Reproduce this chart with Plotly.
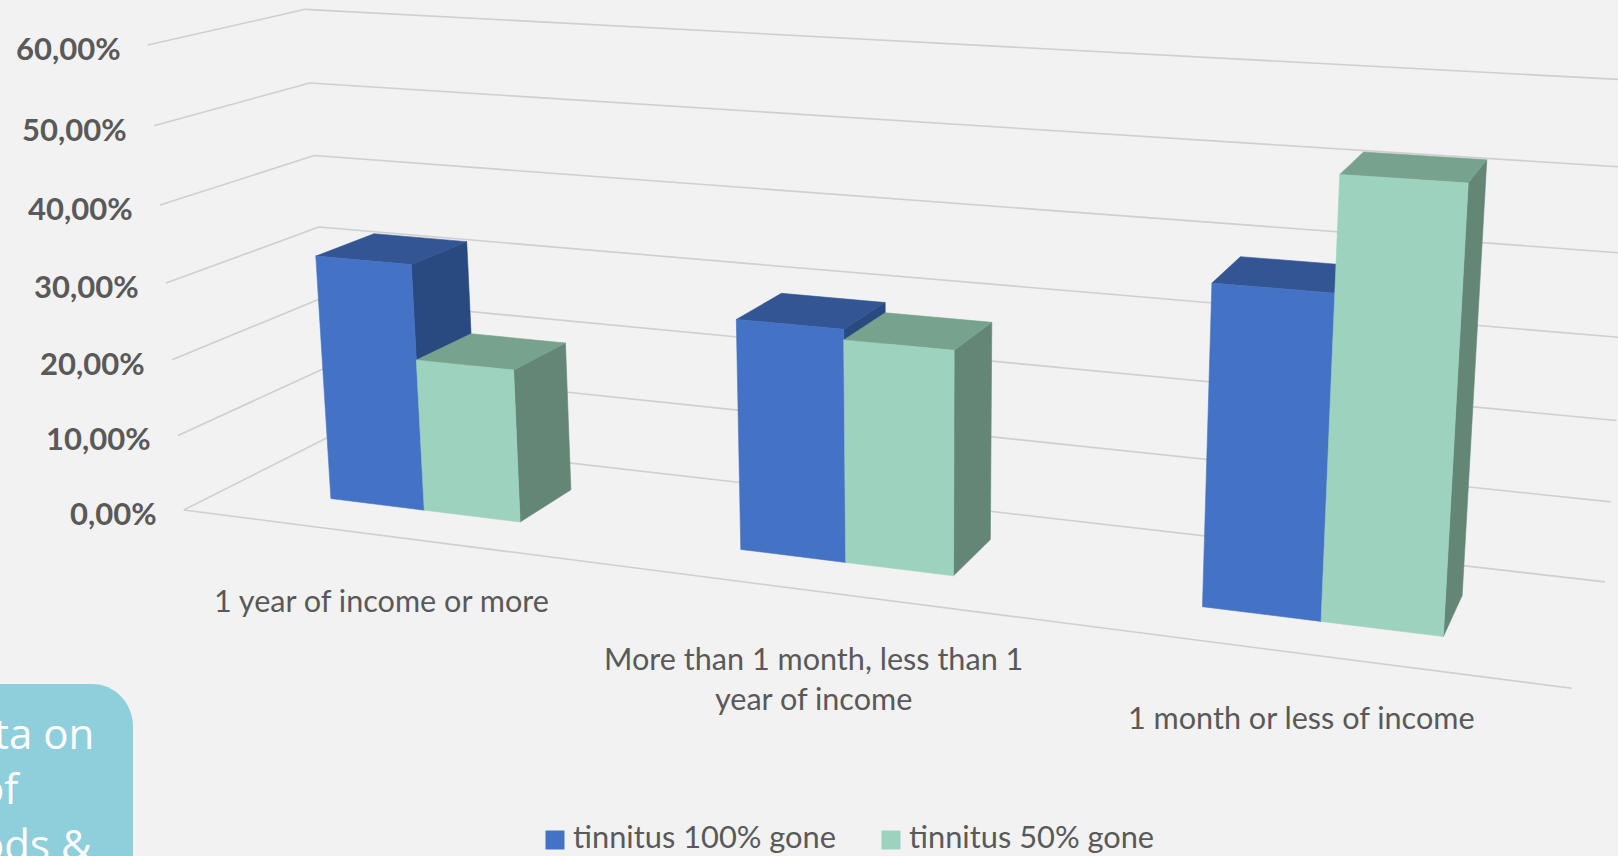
import numpy as np
import plotly.graph_objects as go

WIDTH, HEIGHT = 1618, 856

# Chart data
categories = ["1 year of income or more",
              "More than 1 month, less than 1<br>year of income",
              "1 month or less of income"]
series_names = ["tinnitus 100% gone", "tinnitus 50% gone"]
gone_100 = [32.4, 29.2, 38.5]
gone_50 = [20.0, 27.9, 51.8]
tick_values = [0, 10, 20, 30, 40, 50, 60]
tick_labels = ["0,00%", "10,00%", "20,00%", "30,00%", "40,00%", "50,00%", "60,00%"]

# Face colours per series: front, top, side
FACE_COLOURS = [("#4472C4", "#335593", "#294A80"),
                ("#9DD3BE", "#76A28E", "#648676")]
GRID = "#CFCFCF"
TEXT = "#595959"
BACKGROUND = "#F2F2F2"

# Bar footprint in category units and in floor depth
BAR_WIDTH = 0.238
DEPTH_FRONT, DEPTH_BACK = 0.30, 0.70

# Key row along the bottom edge: square centres and label starts in pixels
KEY_X = [555, 891]
KEY_TEXT_X = [571, 907]
KEY_Y = 840
KEY_TEXT_Y = 836

# Camera calibration: (category, depth, percent) of the plot box -> pixel position
CALIBRATION = [
    ((0, 0, 0), (182.7, 509.6)), ((3, 0, 0), (1572, 688)),
    ((0, 1, 0), (333, 436)), ((3, 1, 0), (1605, 582)),
    ((0, 0, 60), (148.7, 45.7)), ((0, 1, 60), (304.5, 9)),
    ((3, 1, 60), (1641, 80.5)), ((0, 0, 30), (166, 282.9)),
    ((0, 1, 30), (318.3, 226.8)), ((3, 1, 10), (1610, 502)),
]


def solve_camera(pairs):
    rows = []
    for (x, d, z), (u, v) in pairs:
        rows.append([x, d, z, 1, 0, 0, 0, 0, -u * x, -u * d, -u * z, -u])
        rows.append([0, 0, 0, 0, x, d, z, 1, -v * x, -v * d, -v * z, -v])
    return np.linalg.svd(np.array(rows, float))[2][-1].reshape(3, 4)


CAMERA = solve_camera(CALIBRATION)


def project(x, d, z):
    u, v, w = CAMERA @ np.array([x, d, z, 1.0])
    return u / w, v / w


def polygon_trace(corners, colour):
    pts = [project(*c) for c in corners]
    pts.append(pts[0])
    return go.Scatter(x=[p[0] for p in pts], y=[p[1] for p in pts], mode="lines",
                      fill="toself", fillcolor=colour,
                      line=dict(color=colour, width=0.6),
                      hoverinfo="skip", showlegend=False)


def line_trace(start, end):
    a, b = project(*start), project(*end)
    return go.Scatter(x=[a[0], b[0]], y=[a[1], b[1]], mode="lines",
                      line=dict(color=GRID, width=1.6),
                      hoverinfo="skip", showlegend=False)


def bar_faces(x0, x1, value, colours):
    d0, d1 = DEPTH_FRONT, DEPTH_BACK
    front, top, side = colours
    return [
        polygon_trace([(x1, d0, 0), (x1, d1, 0), (x1, d1, value), (x1, d0, value)], side),
        polygon_trace([(x0, d0, value), (x1, d0, value), (x1, d1, value), (x0, d1, value)], top),
        polygon_trace([(x0, d0, 0), (x1, d0, 0), (x1, d0, value), (x0, d0, value)], front),
    ]


fig = go.Figure()

# Walls and floor of the plot box
for z in tick_values:
    fig.add_trace(line_trace((0, 0, z), (0, 1, z)))
    fig.add_trace(line_trace((0, 1, z), (3, 1, z)))
fig.add_trace(line_trace((0, 0, 0), (3, 0, 0)))

# Bars: left series first so the right one covers its side face
for i in range(len(categories)):
    centre = i + 0.5
    fig.add_traces(bar_faces(centre - BAR_WIDTH, centre, gone_100[i], FACE_COLOURS[0]))
    fig.add_traces(bar_faces(centre, centre + BAR_WIDTH, gone_50[i], FACE_COLOURS[1]))

annotations = []

# Colour key
for name, colours, key_x, text_x in zip(series_names, FACE_COLOURS, KEY_X, KEY_TEXT_X):
    fig.add_trace(go.Scatter(x=[key_x], y=[KEY_Y], mode="markers", name=name,
                             marker=dict(symbol="square", size=19, color=colours[0]),
                             cliponaxis=False, showlegend=False, hoverinfo="skip"))
    annotations.append(dict(x=text_x, y=KEY_TEXT_Y, text=name, xanchor="left", yanchor="middle",
                            showarrow=False,
                            font=dict(family="Lato", size=30.8, color=TEXT)))

for z, label in zip(tick_values, tick_labels):
    u, v = project(0, 0, z)
    annotations.append(dict(x=u - 25, y=v + 3, text=f"<b>{label}</b>", xanchor="right",
                            yanchor="middle", showarrow=False,
                            font=dict(family="Lato", size=31, color=TEXT)))

for label, (cx, cy) in zip(categories, [(381, 600), (813, 678), (1301, 717)]):
    annotations.append(dict(x=cx, y=cy, text=label, xanchor="center", yanchor="middle",
                            showarrow=False, align="center",
                            font=dict(family="Lato", size=30.6, color=TEXT)))

# Callout panel running off the page corner
for line, right, cy in [("ta on", 96, 732), ("of", 23, 787), ("ods &", 94, 843)]:
    annotations.append(dict(x=right, y=cy, text=line, xanchor="right", yanchor="middle",
                            showarrow=False,
                            font=dict(family="Open Sans", size=42, color="#FFFFFF")))

fig.update_layout(
    width=WIDTH, height=HEIGHT, autosize=False, showlegend=False,
    margin=dict(l=0, r=0, t=0, b=0),
    paper_bgcolor=BACKGROUND, plot_bgcolor=BACKGROUND,
    xaxis=dict(range=[0, WIDTH], visible=False, fixedrange=True),
    yaxis=dict(range=[HEIGHT, 0], visible=False, fixedrange=True),
    annotations=annotations,
    shapes=[dict(type="path", xref="x", yref="y", layer="below", line=dict(width=0),
                 fillcolor="#8FCFDC",
                 path="M -10,684 L 92,684 C 115,684 133,703 133,727 L 133,870 L -10,870 Z")],
)

fig.write_html("out.html", config=dict(displayModeBar=False))
